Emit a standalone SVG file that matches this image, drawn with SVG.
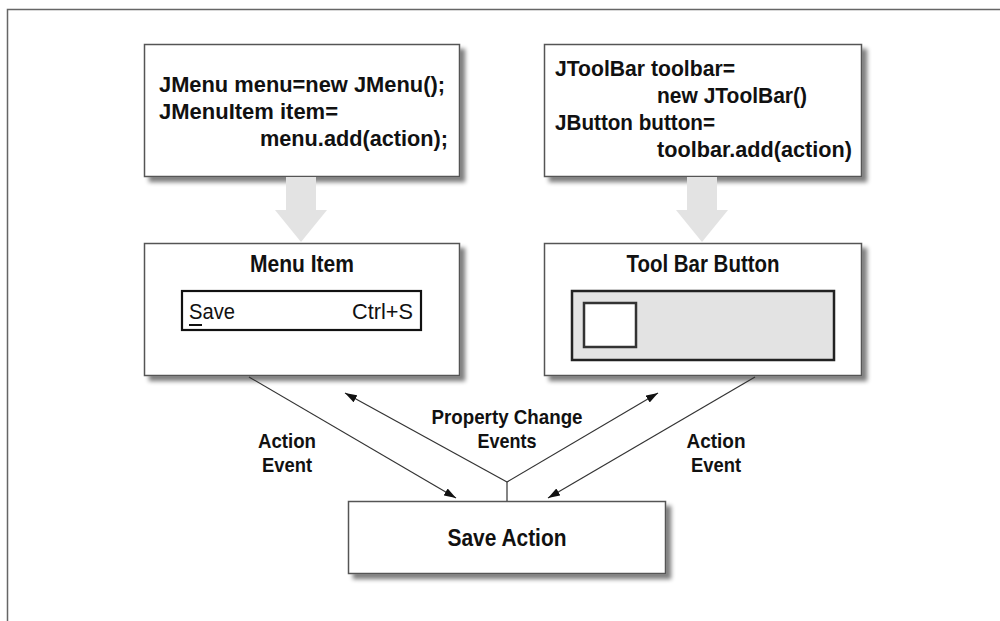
<svg xmlns="http://www.w3.org/2000/svg" width="1000" height="621" viewBox="0 0 1000 621">
<defs>
<filter id="sh" x="-10%" y="-10%" width="130%" height="140%">
<feGaussianBlur in="SourceAlpha" stdDeviation="2"/>
<feOffset dx="5" dy="5" result="b"/>
<feComponentTransfer><feFuncA type="linear" slope="0.5"/></feComponentTransfer>
<feMerge><feMergeNode/><feMergeNode in="SourceGraphic"/></feMerge>
</filter>
<marker id="ah" viewBox="0 0 12 8" refX="12" refY="4" markerWidth="12" markerHeight="8" markerUnits="userSpaceOnUse" orient="auto">
<path d="M0,0 L12,4 L0,8 z" fill="#111"/>
</marker>
</defs>
<style>
.box{fill:#fff;stroke:#555;stroke-width:1.5}
.t{font-family:"Liberation Sans",Arial,sans-serif;font-weight:bold;font-size:22px;fill:#111}
.h{font-size:24px}
.l{font-size:21px}
.r{font-family:"Liberation Sans",Arial,sans-serif;font-size:22px;fill:#111}
.c{text-anchor:middle}
.con{stroke:#333;stroke-width:1.2;fill:none}
.garrow{fill:#e3e3e3}
</style>
<rect x="7.5" y="9.5" width="1010" height="630" fill="#fff" stroke="#666" stroke-width="1.5"/>

<g id="code-menu">
<rect class="box" x="144.5" y="44.5" width="315" height="132" filter="url(#sh)"/>
<text class="t" x="159" y="92" textLength="286" lengthAdjust="spacingAndGlyphs">JMenu menu=new JMenu();</text>
<text class="t" x="159" y="119" textLength="179" lengthAdjust="spacingAndGlyphs">JMenuItem item=</text>
<text class="t" x="260" y="146" textLength="188" lengthAdjust="spacingAndGlyphs">menu.add(action);</text>
</g>

<g id="code-toolbar">
<rect class="box" x="544.5" y="44.5" width="317" height="132" filter="url(#sh)"/>
<text class="t" x="555" y="76" textLength="180" lengthAdjust="spacingAndGlyphs">JToolBar toolbar=</text>
<text class="t" x="657" y="103" textLength="150" lengthAdjust="spacingAndGlyphs">new JToolBar()</text>
<text class="t" x="555" y="130" textLength="160" lengthAdjust="spacingAndGlyphs">JButton button=</text>
<text class="t" x="657" y="157" textLength="195" lengthAdjust="spacingAndGlyphs">toolbar.add(action)</text>
</g>

<g id="arrow-left">
<path class="garrow" d="M286,177 L316,177 L316,210 L327,210 L301,242 L275,210 L286,210 z"/>
</g>
<g id="arrow-right">
<path class="garrow" d="M687,177 L717,177 L717,210 L728,210 L702,242 L676,210 L687,210 z"/>
</g>

<g id="menu-item">
<rect class="box" x="144.5" y="243.5" width="315" height="132" filter="url(#sh)"/>
<text class="t h c" x="302" y="272" textLength="104" lengthAdjust="spacingAndGlyphs">Menu Item</text>
<rect x="182" y="291" width="239" height="39" fill="#fff" stroke="#111" stroke-width="2.2"/>
<text class="r" x="189" y="319" textLength="46" lengthAdjust="spacingAndGlyphs">Save</text>
<line x1="189" y1="325" x2="202" y2="325" stroke="#111" stroke-width="2"/>
<text class="r" x="352" y="319" textLength="61" lengthAdjust="spacingAndGlyphs">Ctrl+S</text>
</g>

<g id="toolbar-button">
<rect class="box" x="544.5" y="243.5" width="317" height="132" filter="url(#sh)"/>
<text class="t h c" x="703" y="272" textLength="153" lengthAdjust="spacingAndGlyphs">Tool Bar Button</text>
<rect x="572" y="291" width="262" height="69" fill="#e3e3e3" stroke="#222" stroke-width="2.5"/>
<rect x="584" y="303" width="52" height="44" fill="#fff" stroke="#333" stroke-width="2.5"/>
</g>

<g id="save-action">
<rect class="box" x="348.5" y="501.5" width="317" height="72" filter="url(#sh)"/>
<text class="t h c" x="507" y="546" textLength="119" lengthAdjust="spacingAndGlyphs">Save Action</text>
</g>

<g id="connectors">
<line class="con" x1="249" y1="377" x2="456" y2="498" marker-end="url(#ah)"/>
<line class="con" x1="755" y1="377" x2="548" y2="498" marker-end="url(#ah)"/>
<line class="con" x1="507" y1="501" x2="507" y2="482"/>
<line class="con" x1="507" y1="482" x2="345" y2="393" marker-end="url(#ah)"/>
<line class="con" x1="507" y1="482" x2="658" y2="393" marker-end="url(#ah)"/>
</g>

<g id="labels">
<text class="t l c" x="287" y="448" textLength="58" lengthAdjust="spacingAndGlyphs">Action</text>
<text class="t l c" x="287" y="472" textLength="50" lengthAdjust="spacingAndGlyphs">Event</text>
<text class="t l c" x="716" y="448" textLength="59" lengthAdjust="spacingAndGlyphs">Action</text>
<text class="t l c" x="716" y="472" textLength="50" lengthAdjust="spacingAndGlyphs">Event</text>
<text class="t l c" x="507" y="424" textLength="151" lengthAdjust="spacingAndGlyphs">Property Change</text>
<text class="t l c" x="507" y="448" textLength="59" lengthAdjust="spacingAndGlyphs">Events</text>
</g>
</svg>
